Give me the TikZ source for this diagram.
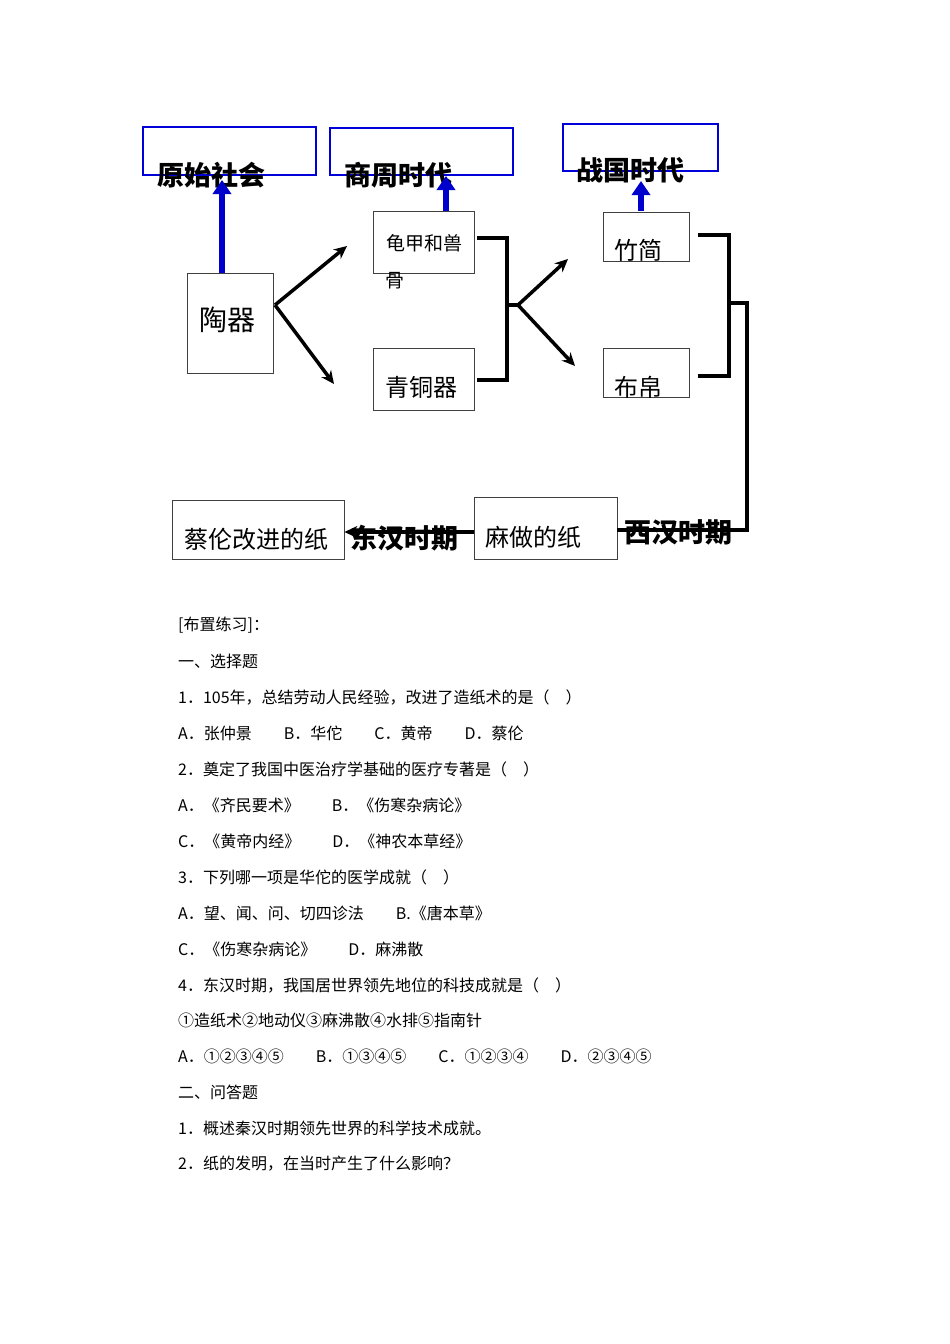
\documentclass[tikz,border=0pt]{standalone}
\usepackage{fontspec}
\setmainfont{Noto Sans CJK SC}
\usetikzlibrary{arrows.meta}
\begin{document}
\begin{tikzpicture}[x=1pt,y=-1pt,
 bbox/.style={draw=blue!85!black,line width=2.5pt},
 gbox/.style={draw=black!75,line width=0.8pt},
 lbl/.style={font=\bfseries\fontsize{27}{27}\selectfont},
 blar/.style={draw=blue!80!black,line width=6.5pt,-{Triangle[length=14pt,width=18pt]}},
 bkar/.style={line width=3.5pt,-{Stealth[length=13pt,width=12pt]}},
 brk/.style={line width=4pt},
 txt/.style={anchor=west,font=\fontsize{16}{16}\selectfont,inner sep=0pt}]
\path[use as bounding box] (0,0) rectangle (950,1344);
\draw[bbox] (143,127) rectangle (316,175);
\draw[bbox] (330,128) rectangle (513,175);
\draw[bbox] (563,124) rectangle (718,171);
\node[lbl] (t1) at (211,175) {原始社会};
\node[lbl] (t2) at (398,175) {商周时代};
\node[lbl] (t3) at (630,170) {战国时代};
\node[gbox,minimum width=86,minimum height=100,inner sep=0] (tq) at (230,323) {};
\node[font=\fontsize{28}{28}\selectfont] at (227,320) {陶器};
\node[gbox,minimum width=101,minimum height=62,inner sep=0] (gj) at (423.5,242) {};
\node[font=\fontsize{19}{19}\selectfont] at (424,243) {龟甲和兽};
\node[font=\fontsize{19}{19}\selectfont] at (395,281) {骨};
\node[gbox,minimum width=101,minimum height=62,inner sep=0] (qt) at (423.5,379) {};
\node[font=\fontsize{24}{24}\selectfont] at (421,387) {青铜器};
\node[gbox,minimum width=86,minimum height=49,inner sep=0] (zj) at (646,236.5) {};
\node[font=\fontsize{24}{24}\selectfont] at (638,250) {竹简};
\node[gbox,minimum width=86,minimum height=49,inner sep=0] (bb) at (646,372.5) {};
\node[font=\fontsize{24}{24}\selectfont] at (638,387) {布帛};
\node[gbox,minimum width=143,minimum height=62,inner sep=0] (mz) at (545.5,528) {};
\node[font=\fontsize{24}{24}\selectfont] at (533,537) {麻做的纸};
\node[gbox,minimum width=172,minimum height=59,inner sep=0] (cl) at (258,529.5) {};
\node[font=\fontsize{24}{24}\selectfont] at (256,539) {蔡伦改进的纸};
\draw[blar] (tq.north -| 222,0) -- (222,180);
\draw[blar] (446,211) -- (446,176);
\draw[blar] (641,211) -- (641,181);
\coordinate (p1) at (275,305);
\draw[bkar] (p1) -- (347,246);
\draw[bkar] (p1) -- (334,384);
\draw[brk] (477,238) -- (507,238) -- (507,380) -- (477,380);
\coordinate (p2) at (518,305);
\draw[brk] (507,305) -- (p2);
\draw[bkar] (p2) -- (568,259);
\draw[bkar] (p2) -- (575,366);
\draw[brk] (698,235) -- (729,235) -- (729,376) -- (698,376);
\draw[brk] (729,303) -- (747,303) -- (747,530) -- (mz.east |- 0,530);
\node[lbl] at (404,538) {东汉时期};
\node[lbl] at (678,532) {西汉时期};
\draw[bkar,line width=3.5pt] (mz.west |- 0,532) -- (cl.east |- 0,532);
\node[txt] at (178,625) {[布置练习]：};
\node[txt] at (178,661) {一、选择题};
\node[txt] at (178,697) {1．105年，总结劳动人民经验，改进了造纸术的是（\quad ）};
\node[txt] at (178,733) {A．张仲景\qquad B．华佗\qquad C．黄帝\qquad D．蔡伦};
\node[txt] at (178,769) {2．奠定了我国中医治疗学基础的医疗专著是（\quad ）};
\node[txt] at (178,805) {A．《齐民要术》\qquad B．《伤寒杂病论》};
\node[txt] at (178,841) {C．《黄帝内经》\qquad D．《神农本草经》};
\node[txt] at (178,877) {3．下列哪一项是华佗的医学成就（\quad ）};
\node[txt] at (178,913) {A．望、闻、问、切四诊法\qquad B.《唐本草》};
\node[txt] at (178,949) {C．《伤寒杂病论》\qquad D．麻沸散};
\node[txt] at (178,985) {4．东汉时期，我国居世界领先地位的科技成就是（\quad ）};
\node[txt] at (178,1020) {①造纸术②地动仪③麻沸散④水排⑤指南针};
\node[txt] at (178,1056) {A．①②③④⑤\qquad B．①③④⑤\qquad C．①②③④\qquad D．②③④⑤};
\node[txt] at (178,1092) {二、问答题};
\node[txt] at (178,1128) {1．概述秦汉时期领先世界的科学技术成就。};
\node[txt] at (178,1164) {2．纸的发明，在当时产生了什么影响？};
\end{tikzpicture}
\end{document}
